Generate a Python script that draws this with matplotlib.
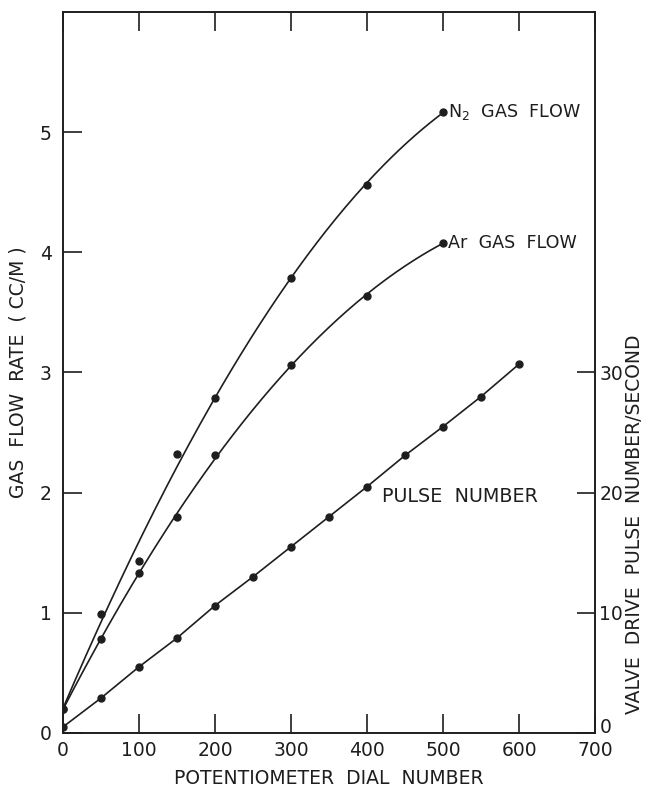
import numpy as np
import matplotlib.pyplot as plt

# --- dades llegides del gràfic ---
dial = [0, 50, 100, 150, 200, 300, 400, 500]
n2_flow = [0.2, 0.99, 1.43, 2.32, 2.79, 3.79, 4.56, 5.17]
ar_flow = [0.2, 0.78, 1.33, 1.80, 2.31, 3.06, 3.64, 4.08]

dial_pulse = [0, 50, 100, 150, 200, 250, 300, 350, 400, 450, 500, 550, 600]
pulse = [0.5, 2.9, 5.5, 7.9, 10.6, 13.0, 15.5, 18.0, 20.5, 23.1, 25.5, 28.0, 30.7]

ink = '#1e1e1e'
plt.rcParams['font.family'] = ['DejaVu Sans']
plt.rcParams['font.size'] = 13.5

fig = plt.figure(figsize=(6.62, 7.88), dpi=100)
ax = fig.add_axes([0.095, 0.0698, 0.804, 0.915])
ax2 = ax.twinx()

# corbes suaus ajustades als punts
xs = np.linspace(0, 500, 200)
n2_fit = np.polyval(np.polyfit(dial, n2_flow, 3), xs)
ar_fit = np.polyval(np.polyfit(dial, ar_flow, 3), xs)
ax.plot(xs, n2_fit, color=ink, lw=1.2)
ax.plot(xs, ar_fit, color=ink, lw=1.2)
ax.plot(dial, n2_flow, 'o', color=ink, ms=5)
ax.plot(dial, ar_flow, 'o', color=ink, ms=5)

ax2.plot(dial_pulse, pulse, '-o', color=ink, lw=1.2, ms=5)

ax.text(506, 5.17, 'N$_2$  GAS  FLOW', va='center', ha='left', color=ink, fontsize=12.6)
ax.text(506, 4.08, 'Ar  GAS  FLOW', va='center', ha='left', color=ink, fontsize=12.6)
ax.text(420, 1.97, 'PULSE  NUMBER', va='center', ha='left', color=ink, fontsize=13.8)

ax.set_xlim(0, 700)
ax.set_ylim(0, 6)
ax2.set_ylim(0, 60)

ax.set_xticks(range(0, 800, 100))
ax.set_yticks([0, 1, 2, 3, 4, 5])
ax2.set_yticks([0, 10, 20, 30])

ax.tick_params(axis='x', direction='in', length=14, width=1.2, top=True,
               labeltop=False, pad=6, colors=ink)
ax.tick_params(axis='y', direction='in', length=14, width=1.2, pad=8, colors=ink)
ax2.tick_params(axis='y', direction='in', length=13, width=1.2, pad=3, colors=ink)

# el "0" de la dreta queda just per sobre del 700
ax2.get_yticklabels()[0].set_va('baseline')

for a in (ax, ax2):
    for s in a.spines.values():
        s.set_linewidth(1.2)
        s.set_color(ink)

ax.set_xlabel('POTENTIOMETER  DIAL  NUMBER', color=ink, labelpad=6)
ax.set_ylabel('GAS  FLOW  RATE  ( CC/M )', color=ink, labelpad=9)
fig.text(0.958, 0.335, 'VALVE  DRIVE  PULSE  NUMBER/SECOND', rotation=90,
         ha='center', va='center', color=ink)

plt.savefig('out.png', dpi=100)
